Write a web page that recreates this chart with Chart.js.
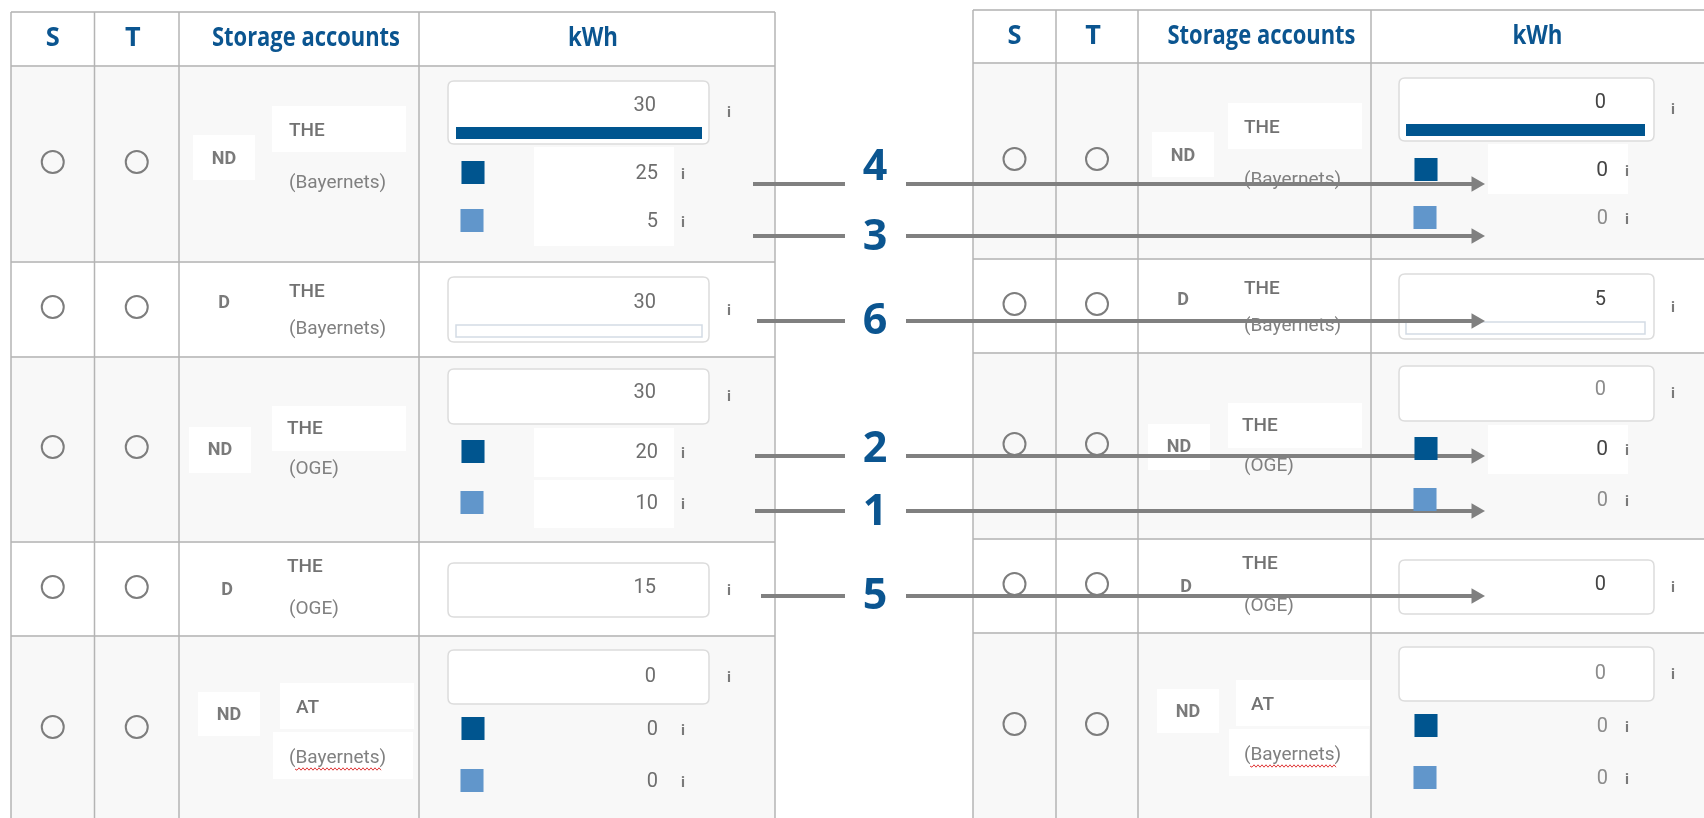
<!DOCTYPE html>
<html><head><meta charset="utf-8">
<script src="https://cdn.jsdelivr.net/npm/chart.js@4.4.1/dist/chart.umd.min.js"></script>
<style>html,body{margin:0;padding:0;background:#fff;overflow:hidden}</style>
</head><body>
<canvas id="c" width="1704" height="818" style="display:block;width:1704px;height:818px"></canvas>
<script>
// ---------------- DATA ----------------
const headerLabels = ['S', 'T', 'Storage accounts', 'kWh'];
const accountTypes = ['ND', 'D', 'ND', 'D', 'ND'];
const accountAreas = ['THE', 'THE', 'THE', 'THE', 'AT'];
const accountOperators = ['(Bayernets)', '(Bayernets)', '(OGE)', '(OGE)', '(Bayernets)'];
const totalBefore = [30, 30, 30, 15, 0];
const part1Before = [25, null, 20, null, 0];
const part2Before = [5, null, 10, null, 0];
const totalAfter = [0, 5, 0, 0, 0];
const part1After = [0, null, 0, null, 0];
const part2After = [0, null, 0, null, 0];
const barFillBefore = [1, 0, null, null, null];
const barFillAfter = [1, 0, null, null, null];
const arrowLabels = ['4', '3', '6', '2', '1', '5'];
const spellErrorRows = [false, false, false, false, true];

// ---------------- LAYOUT / STYLE ----------------
const BLUE = '#0b5590', DARK_SQ = '#00558f', LIGHT_SQ = '#6196cb';
const TABLES = [
  {cols:[11,94.5,179,419,775], rows:[12,66,262,357,542,636,830], dy:0, areaAdj:2,
   box:[448,709], bar:[456,702], valRight:656, infoX:729, sqX:473, subValRight:658, subInfoX:683,
   subBox:{x:[534,674], p1:[0,2], p2:[0,2]}, areaBoxX:[272,406],
   totals:totalBefore, p1:part1Before, p2:part2Before, fills:barFillBefore,
   valColor:()=>'#6e6e6e', valSize:()=>20},
  {cols:[973,1056,1138,1371,1712], rows:[10,63,259,353,539,633,830], dy:-3, areaAdj:-2,
   box:[1399,1654], bar:[1406,1645], valRight:1606, infoX:1673, sqX:1426, subValRight:1608, subInfoX:1627,
   subBox:{x:[1488,1628], p1:[0,2], p2:[]}, areaBoxX:[1228,1362],
   totals:totalAfter, p1:part1After, p2:part2After, fills:barFillAfter,
   valColor:(k)=>(['0:t','1:t','3:t','0:p1','2:p1'].includes(k)?'#444':'#8c8c8c'),
   valSize:(k)=>(['0:p1','2:p1'].includes(k)?21:20)}
];
const Y = {
  radio:[162,307,447,587,727],
  type:[159,303,450,590,715],
  typeBox:[[135,180],null,[427,473],null,[692,736]],
  area:[131,292,429,567,708],
  areaBox:[[106,152],null,[406,451],null,[683,729]],
  op:[183,329,469,609,758],
  opBox:[null,null,null,null,[732,779]],
  totalBox:[[81,144],[277,342],[369,424],[563,617],[650,704]],
  totalText:[106,303,393,588,677],
  totalInfo:[113,311,397,591,678],
  bar:[[127,139],[325,337],null,null,null],
  part1:[174,null,453,null,730],
  part2:[222,null,504,null,782],
  part1Box:[[147,197],null,[428,477],null,null],
  part2Box:[[197,246],null,[480,528],null,null]
};
const TYPE_X_OFF = [45,45,41,48,50];
const AREA_X_OFF = [108,108,106,106,115];
const HEADER_MAXW = [14, 16, 188, 50];
const ARROW_Y = [184,236,321,456,511,596];
const ARROW_LABEL_Y = [168,238,322,450,513,597];
const ARROW_START = [753,753,757,755,755,761];
const ARROW_GAP = [845,906], ARROW_LABEL_X = 875, ARROW_TIP = 1485, HEAD_R = 9;

// ---------------- DATASETS ----------------
const radioPts = [], sqDark = [], sqLight = [];
TABLES.forEach(T => {
  accountTypes.forEach((_, i) => {
    const y = Y.radio[i] + T.dy;
    radioPts.push({x:(T.cols[0]+T.cols[1])/2, y}, {x:(T.cols[1]+T.cols[2])/2, y});
    if (T.p1[i] !== null) sqDark.push({x:T.sqX, y:Y.part1[i] + T.dy - 1.5});
    if (T.p2[i] !== null) sqLight.push({x:T.sqX - 1, y:Y.part2[i] + T.dy - 1.5});
  });
});
const datasets = [
  {type:'scatter', data:radioPts, pointStyle:'circle', pointRadius:11, pointBorderWidth:2,
   pointBorderColor:'#7d7d7d', pointBackgroundColor:'rgba(0,0,0,0)'},
  {type:'scatter', data:sqDark, pointStyle:'rect', pointRadius:16.3, pointBorderWidth:0, pointBackgroundColor:DARK_SQ},
  {type:'scatter', data:sqLight, pointStyle:'rect', pointRadius:16.3, pointBorderWidth:0, pointBackgroundColor:LIGHT_SQ}
];
arrowLabels.forEach((lab, k) => {
  const y = ARROW_Y[k];
  datasets.push({type:'line', data:[{x:ARROW_START[k], y}, {x:ARROW_GAP[0], y}],
    borderColor:'#808080', borderWidth:4, pointRadius:0, borderCapStyle:'butt'});
  datasets.push({type:'line', data:[{x:ARROW_GAP[1], y}, {x:ARROW_TIP - HEAD_R, y}],
    borderColor:'#808080', borderWidth:4, borderCapStyle:'butt',
    pointRadius:[0, HEAD_R], pointStyle:'triangle', pointRotation:90,
    pointBackgroundColor:'#808080', pointBorderColor:'#808080', pointBorderWidth:0});
});

// ---------------- DRAW HELPERS ----------------
function rrect(ctx, x, y, w, h, r) {
  ctx.beginPath();
  ctx.moveTo(x+r, y); ctx.lineTo(x+w-r, y); ctx.quadraticCurveTo(x+w, y, x+w, y+r);
  ctx.lineTo(x+w, y+h-r); ctx.quadraticCurveTo(x+w, y+h, x+w-r, y+h);
  ctx.lineTo(x+r, y+h); ctx.quadraticCurveTo(x, y+h, x, y+h-r);
  ctx.lineTo(x, y+r); ctx.quadraticCurveTo(x, y, x+r, y); ctx.closePath();
}
function txt(ctx, s, x, y, font, color, align, maxW, baseline) {
  ctx.font = font; ctx.fillStyle = color; ctx.textAlign = align || 'left'; ctx.textBaseline = baseline || 'middle';
  if (maxW) ctx.fillText(s, x, y, maxW); else ctx.fillText(s, x, y);
}

const tablePlugin = {
  id:'tableChrome',
  beforeDatasetsDraw(chart) {
    const ctx = chart.ctx, sx = chart.scales.x, sy = chart.scales.y;
    const X = v => sx.getPixelForValue(v), P = v => sy.getPixelForValue(v);
    ctx.save();
    TABLES.forEach(T => {
      const d = T.dy, c = T.cols, R = T.rows;
      for (let i = 0; i < 6; i++) {
        const nd = i > 0 && accountTypes[i-1] === 'ND';
        ctx.fillStyle = nd ? '#f8f8f8' : '#ffffff';
        ctx.fillRect(X(c[0]), P(R[i]), X(c[4]) - X(c[0]), P(R[i+1]) - P(R[i]));
      }
      ctx.fillStyle = '#ffffff';
      accountTypes.forEach((t, i) => {
        if (Y.typeBox[i]) { const tx = c[2] + TYPE_X_OFF[i];
          ctx.fillRect(X(tx-31), P(Y.typeBox[i][0]+d), 62, Y.typeBox[i][1]-Y.typeBox[i][0]); }
        if (Y.areaBox[i]) ctx.fillRect(X(T.areaBoxX[0] + (i===4?8:0)), P(Y.areaBox[i][0]+d), T.areaBoxX[1]-T.areaBoxX[0], Y.areaBox[i][1]-Y.areaBox[i][0]);
        if (Y.opBox[i]) ctx.fillRect(X(T.areaBoxX[0]+1), P(Y.opBox[i][0]+d), T.areaBoxX[1]-T.areaBoxX[0]+6, Y.opBox[i][1]-Y.opBox[i][0]);
        if (T.subBox.p1.includes(i)) ctx.fillRect(X(T.subBox.x[0]), P(Y.part1Box[i][0]+d), T.subBox.x[1]-T.subBox.x[0], Y.part1Box[i][1]-Y.part1Box[i][0]);
        if (T.subBox.p2.includes(i)) ctx.fillRect(X(T.subBox.x[0]), P(Y.part2Box[i][0]+d), T.subBox.x[1]-T.subBox.x[0], Y.part2Box[i][1]-Y.part2Box[i][0]);
      });
      ctx.strokeStyle = '#c4c4c4'; ctx.lineWidth = 2;
      R.slice(0, 6).forEach(y => { ctx.beginPath(); ctx.moveTo(X(c[0]), P(y)); ctx.lineTo(X(c[4]), P(y)); ctx.stroke(); });
      ctx.strokeStyle = '#b4b4b4'; ctx.lineWidth = 1.5;
      c.forEach(x => { ctx.beginPath(); ctx.moveTo(X(x), P(R[0])); ctx.lineTo(X(x), P(818)); ctx.stroke(); });
      const hb = R[0] + 34;
      headerLabels.forEach((h, k) => {
        const cx = (c[k] + c[k+1]) / 2 + (k===3 ? -4 : 0) + (k===2 ? 7 : 0) + (k===1 ? -4 : 0);
        txt(ctx, h, X(cx), P(hb), 'bold 27px "Open Sans"', BLUE, 'center', HEADER_MAXW[k], 'alphabetic');
      });
      accountTypes.forEach((t, i) => {
        txt(ctx, t, X(c[2] + TYPE_X_OFF[i]), P(Y.type[i]+d), 'bold 18px Roboto', '#7a7a7a', 'center', t==='ND'?27:null);
        const ax = c[2] + AREA_X_OFF[i] + T.areaAdj;
        txt(ctx, accountAreas[i], X(ax), P(Y.area[i]+d), '500 19px Roboto', '#727272', 'left');
        const ox = c[2] + 108 + T.areaAdj;
        txt(ctx, accountOperators[i], X(ox), P(Y.op[i]+d), '19px Roboto', '#808080', 'left', 110);
        if (spellErrorRows[i]) {
          ctx.font = '19px Roboto'; const w = Math.min(110, ctx.measureText(accountOperators[i]).width);
          ctx.beginPath(); let up = true; const wy = P(Y.op[i]+d+11);
          for (let x = X(ox+6); x <= X(ox+w-4); x += 2) { if (x === X(ox+6)) ctx.moveTo(x, wy); else ctx.lineTo(x, wy + (up ? -1.2 : 1.2)); up = !up; }
          ctx.strokeStyle = '#e03a3a'; ctx.lineWidth = 1; ctx.stroke();
        }
        const b = Y.totalBox[i];
        ctx.fillStyle = '#ffffff'; rrect(ctx, X(T.box[0]), P(b[0]+d), T.box[1]-T.box[0], b[1]-b[0], 6); ctx.fill();
        ctx.strokeStyle = '#dcdcdc'; ctx.lineWidth = 1.5; ctx.stroke();
        const tk = i + ':t';
        txt(ctx, String(T.totals[i]), X(T.valRight), P(Y.totalText[i]+d), T.valSize(tk) + 'px Roboto', T.valColor(tk), 'right');
        txt(ctx, 'i', X(T.infoX), P(Y.totalInfo[i]+d), 'bold 15px Roboto', '#7a7a7a', 'center');
        if (Y.bar[i] && T.fills[i] !== null) {
          const by = Y.bar[i];
          const full = T.bar[1] - T.bar[0];
          if (T.fills[i] > 0) {
            ctx.fillStyle = DARK_SQ;
            ctx.fillRect(X(T.bar[0]), P(by[0]+d), full * T.fills[i], by[1]-by[0]);
          } else {
            ctx.strokeStyle = '#d3dbe5'; ctx.lineWidth = 1.5;
            ctx.strokeRect(X(T.bar[0]), P(by[0]+d), full, by[1]-by[0]);
          }
        }
        [['p1', T.p1, Y.part1], ['p2', T.p2, Y.part2]].forEach(([key, arr, ys]) => {
          if (arr[i] === null) return;
          const k = i + ':' + key;
          txt(ctx, String(arr[i]), X(T.subValRight), P(ys[i]+d), T.valSize(k) + 'px Roboto', T.valColor(k), 'right');
          txt(ctx, 'i', X(T.subInfoX), P(ys[i]+d+1), 'bold 15px Roboto', '#7a7a7a', 'center');
        });
      });
    });
    ctx.restore();
  },
  afterDatasetsDraw(chart) {
    const ctx = chart.ctx, sx = chart.scales.x, sy = chart.scales.y;
    ctx.save();
    arrowLabels.forEach((lab, k) => {
      txt(ctx, lab, sx.getPixelForValue(ARROW_LABEL_X), sy.getPixelForValue(ARROW_LABEL_Y[k]),
          'bold 43px "Open Sans"', BLUE, 'center', 26);
    });
    ctx.restore();
  }
};

new Chart(document.getElementById('c'), {
  type:'scatter',
  data:{datasets},
  options:{
    responsive:false, animation:false, devicePixelRatio:1, events:[],
    layout:{padding:0, autoPadding:false},
    scales:{
      x:{type:'linear', min:0, max:1704, display:false},
      y:{type:'linear', min:0, max:818, reverse:true, display:false}
    },
    plugins:{legend:{display:false}, tooltip:{enabled:false}},
    elements:{line:{tension:0}}
  },
  plugins:[tablePlugin]
});
</script>
</body></html>
